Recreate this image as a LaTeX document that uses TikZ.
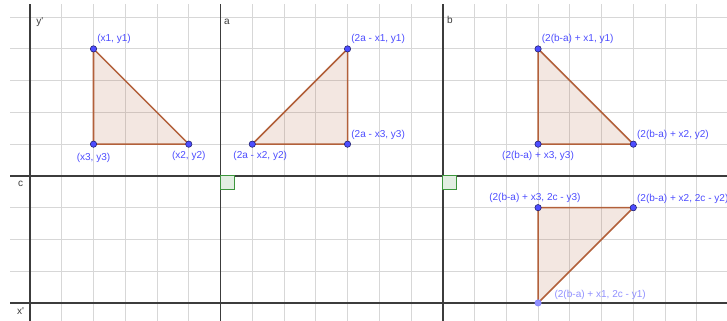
\documentclass[tikz,border=0pt]{standalone}
\usepackage{fontspec}
\setmainfont{Liberation Sans}
\usetikzlibrary{positioning, backgrounds}
\definecolor{ggBlue}{RGB}{77, 77, 255}
\definecolor{ggDark}{RGB}{30, 30, 110}
\definecolor{ggLight}{RGB}{145, 145, 255}
\definecolor{ggBrown}{RGB}{178, 96, 58}
\definecolor{ggGreen}{RGB}{60, 150, 60}
\definecolor{ggGreenFill}{RGB}{226, 238, 226}
\definecolor{ggAxis}{RGB}{60, 60, 60}
\definecolor{ggGrid}{RGB}{215, 215, 215}

\begin{document}
\begin{tikzpicture}[
      node distance=0.6mm and 0mm,
      pt/.style={circle, draw=ggDark, line width=0.5pt, fill=ggBlue, inner sep=0pt, minimum size=2mm},
      ptlight/.style={pt, draw=ggBlue!70, fill=ggLight},
      lbl/.style={inner sep=1pt, text=ggBlue, font=\fontsize{9}{10}\selectfont},
      lbllight/.style={lbl, text=ggLight},
      axlbl/.style={inner sep=0pt, text=ggAxis, font=\fontsize{9}{10}\selectfont},
      tri/.style={draw=ggBrown, line width=1.4pt, fill=ggBrown, fill opacity=0.15, line join=round},
      gridline/.style={ggGrid, line width=0.8pt},
      axis/.style={ggAxis, line width=1.5pt},
      rightangle/.style={draw=ggGreen, fill=ggGreenFill, line width=1pt}
    ]
      \useasboundingbox (-0.945,-0.567) rectangle (21.95,9.54);

      % grid and mirror lines
      \begin{pgfonlayer}{background}
        \fill[white] (-0.945,-0.567) rectangle (21.95,9.54);
        \begin{scope}
          \clip (-0.63,-0.567) rectangle (21.95,9.39);
          \foreach \x in {0,...,21} \draw[gridline] (\x,-1) -- (\x,10);
          \foreach \y in {0,...,9} \draw[gridline] (-1,\y) -- (23,\y);
          \foreach \x in {0,6,13} \draw[axis] (\x,-1) -- (\x,10);
          \foreach \y in {0,4} \draw[axis] (-1,\y) -- (23,\y);
        \end{scope}
      \end{pgfonlayer}

      \draw[rightangle] (6,4) rectangle ++(0.43,-0.43);
      \draw[rightangle] (13,4) rectangle ++(0.43,-0.43);

      \node[axlbl, anchor=north west] (ylbl) at (0.19,8.98) {y\textquotesingle};
      \node[axlbl, anchor=north west] (albl) at (6.11,8.94) {a};
      \node[axlbl, anchor=north west] (blbl) at (13.13,9.04) {b};
      \node[axlbl, anchor=north west] (clbl) at (-0.38,3.84) {c};
      \node[axlbl, anchor=north west] (xlbl) at (-0.41,-0.13) {x\textquotesingle};

      % vertices
      \node[pt] (p1) at (2,8) {};
      \node[pt] (p2) at (5,5) {};
      \node[pt] (p3) at (2,5) {};
      \node[pt] (q1) at (10,8) {};
      \node[pt] (q2) at (7,5) {};
      \node[pt] (q3) at (10,5) {};
      \node[pt] (r1) at (16,8) {};
      \node[pt] (r2) at (19,5) {};
      \node[pt] (r3) at (16,5) {};
      \node[ptlight] (s1) at (16,0) {};
      \node[pt] (s2) at (19,3) {};
      \node[pt] (s3) at (16,3) {};

      \node[lbl, above right=of p1] (p1lbl) {(x1, y1)};
      \node[lbl, below=0.6mm of p2] (p2lbl) {(x2, y2)};
      \node[lbl, below=1.2mm of p3] (p3lbl) {(x3, y3)};
      \node[lbl, above right=of q1] (q1lbl) {(2a - x1, y1)};
      \node[lbl, below=0.6mm of q2, xshift=2.5mm] (q2lbl) {(2a - x2, y2)};
      \node[lbl, above right=0.3mm and 0mm of q3] (q3lbl) {(2a - x3, y3)};
      \node[lbl, above right=of r1] (r1lbl) {(2(b-a) + x1, y1)};
      \node[lbl, above right=0.3mm and 0mm of r2] (r2lbl) {(2(b-a) + x2, y2)};
      \node[lbl, below=0.6mm of r3] (r3lbl) {(2(b-a) + x3, y3)};
      \node[lbllight, above right=0mm and 4mm of s1] (s1lbl) {(2(b-a) + x1, 2c - y1)};
      \node[lbl, above right=0mm and 0mm of s2] (s2lbl) {(2(b-a) + x2, 2c - y2)};
      \node[lbl, above=0mm of s3, xshift=-1mm] (s3lbl) {(2(b-a) + x3, 2c - y3)};

      % triangles behind the vertices
      \begin{pgfonlayer}{background}
        \draw[tri] (p1.center) -- (p2.center) -- (p3.center) -- cycle;
        \draw[tri] (q1.center) -- (q2.center) -- (q3.center) -- cycle;
        \draw[tri] (r1.center) -- (r2.center) -- (r3.center) -- cycle;
        \draw[tri] (s1.center) -- (s2.center) -- (s3.center) -- cycle;
      \end{pgfonlayer}
    \end{tikzpicture}
\end{document}
